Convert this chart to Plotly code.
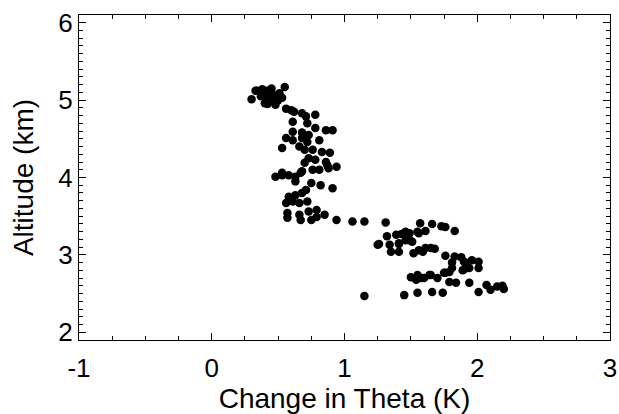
import plotly.graph_objects as go

# change in potential temperature (K) vs altitude (km)
theta_change = [
    0.30, 0.33, 0.34, 0.38, 0.37, 0.42, 0.45, 0.55, 0.41, 0.46,
    0.51, 0.40, 0.43, 0.48, 0.47, 0.45, 0.53, 0.37, 0.42, 0.50,
    0.56, 0.60, 0.62, 0.68, 0.78, 0.71, 0.61, 0.72, 0.78, 0.86,
    0.91, 0.61, 0.68, 0.73, 0.56, 0.61, 0.68, 0.72, 0.81, 0.53,
    0.66, 0.70, 0.76, 0.83, 0.89, 0.73, 0.78, 0.86, 0.70, 0.87,
    0.94, 0.88, 0.76, 0.81, 0.68, 0.67, 0.53, 0.58, 0.63, 0.48,
    0.53, 0.63, 0.75, 0.82, 0.91, 0.71, 0.58, 0.63, 0.68, 0.56,
    0.61, 0.66, 0.72, 0.79, 0.73, 0.57, 0.66, 0.85, 0.79, 0.57,
    0.67, 0.75, 0.94, 1.06, 1.15, 1.31, 1.25,
    1.57, 1.66, 1.73, 1.76, 1.83, 1.32, 1.39, 1.43, 1.49, 1.55,
    1.61, 1.46, 1.56, 1.26, 1.34, 1.41, 1.41, 1.46, 1.49, 1.51,
    1.35, 1.41, 1.52, 1.59, 1.56, 1.61, 1.65, 1.68, 1.76, 1.83,
    1.88, 1.81, 1.91, 1.96, 2.01, 1.90, 1.94, 2.01, 1.89, 1.90,
    1.50, 1.54, 1.58, 1.60, 1.55, 1.64, 1.65, 1.70, 1.76, 1.75,
    1.79, 1.81, 1.79, 1.84, 1.94, 1.15, 1.45, 1.55, 1.66, 1.74,
    2.01, 2.07, 2.10, 2.15, 2.19, 2.20,
]
altitude = [
    5.01, 5.12, 5.12, 5.14, 5.10, 5.12, 5.15, 5.17, 5.04, 5.07,
    5.09, 4.96, 4.98, 4.94, 5.02, 5.08, 5.03, 5.05, 4.95, 5.00,
    4.89, 4.87, 4.85, 4.83, 4.81, 4.79, 4.72, 4.70, 4.64, 4.61,
    4.61, 4.59, 4.58, 4.55, 4.51, 4.48, 4.51, 4.46, 4.48, 4.38,
    4.40, 4.36, 4.36, 4.33, 4.32, 4.25, 4.23, 4.20, 4.19, 4.16,
    4.14, 4.12, 4.10, 4.10, 4.08, 4.06, 4.03, 4.03, 4.01, 4.01,
    4.06, 3.95, 3.93, 3.90, 3.86, 3.84, 3.75, 3.77, 3.80, 3.67,
    3.69, 3.67, 3.69, 3.58, 3.56, 3.54, 3.52, 3.52, 3.49, 3.48,
    3.45, 3.45, 3.45, 3.43, 3.43, 3.42, 3.13,
    3.41, 3.40, 3.37, 3.36, 3.31, 3.24, 3.26, 3.27, 3.28, 3.30,
    3.31, 3.30, 3.28, 3.14, 3.13, 3.14, 3.15, 3.19, 3.19, 3.17,
    3.04, 3.04, 3.02, 3.04, 3.06, 3.09, 3.09, 3.08, 2.99, 2.98,
    2.97, 2.90, 2.90, 2.93, 2.91, 2.91, 2.83, 2.83, 2.80, 2.81,
    2.71, 2.68, 2.70, 2.70, 2.74, 2.74, 2.74, 2.70, 2.77, 2.77,
    2.78, 2.83, 2.65, 2.64, 2.64, 2.47, 2.48, 2.51, 2.52, 2.51,
    2.52, 2.61, 2.55, 2.59, 2.60, 2.56,
]

x_ticks = [-1, 0, 1, 2, 3]
x_tick_text = ['-1', '0', '1', '2', '3']
y_ticks = [2, 3, 4, 5, 6]

fig = go.Figure()
fig.add_trace(go.Scatter(
    x=theta_change,
    y=altitude,
    mode='markers',
    marker=dict(color='black', size=8.5, line=dict(width=0)),
    showlegend=False,
    cliponaxis=False,
))

axis_common = dict(
    showline=True, linecolor='black', linewidth=1,
    mirror='allticks', ticks='inside', ticklen=7, tickcolor='black',
    showgrid=False, zeroline=False, automargin=False,
    ticklabeloverflow='allow',
    tickfont=dict(size=26, color='black'),
)
fig.update_xaxes(range=[-1, 3], tickvals=x_ticks, ticktext=x_tick_text,
                 ticklabelstandoff=5,
                 minor=dict(ticks='inside', ticklen=4, dtick=0.25, tickcolor='black'),
                 title=dict(text='Change in Theta (K)', font=dict(size=28, color='black'), standoff=0),
                 **axis_common)
fig.update_yaxes(range=[1.9, 6.1], tickvals=y_ticks,
                 minor=dict(ticks='inside', ticklen=4, dtick=0.1, tickcolor='black'),
                 title=dict(text='Altitude (km)', font=dict(size=28, color='black'), standoff=16),
                 **axis_common)
fig.update_layout(
    width=619, height=414,
    margin=dict(l=79, r=9, t=15, b=74),
    paper_bgcolor='white', plot_bgcolor='white',
    font=dict(family='Liberation Sans, Arial, sans-serif', color='black'),
)
# drop the default page margin so the figure sits flush in the window
fig.write_html("out.html",
               config={'displayModeBar': False},
               post_script="document.body.style.margin='0';document.body.style.overflow='hidden';")
